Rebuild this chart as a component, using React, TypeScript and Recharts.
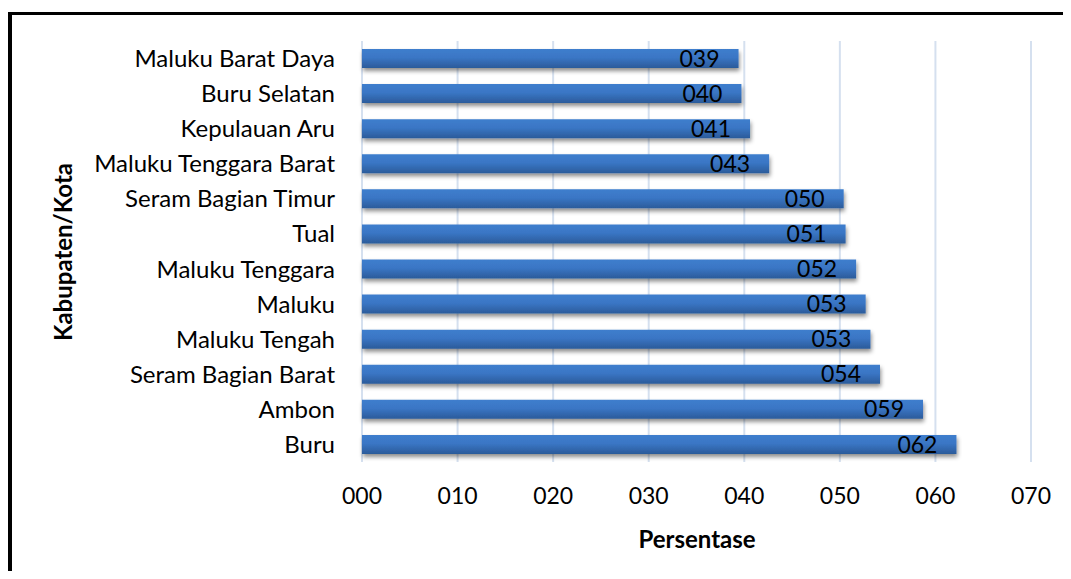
import { Bar, BarChart, CartesianGrid, LabelList, XAxis, YAxis } from "recharts";

// Persentase per kabupaten/kota, urut dari atas ke bawah
const kabupaten = [
  "Maluku Barat Daya",
  "Buru Selatan",
  "Kepulauan Aru",
  "Maluku Tenggara Barat",
  "Seram Bagian Timur",
  "Tual",
  "Maluku Tenggara",
  "Maluku",
  "Maluku Tengah",
  "Seram Bagian Barat",
  "Ambon",
  "Buru",
];

const persentase = [39.4, 39.7, 40.6, 42.6, 50.4, 50.6, 51.7, 52.7, 53.2, 54.2, 58.7, 62.2];

const xTicks = [0, 10, 20, 30, 40, 50, 60, 70];

const FONT = "Lato, 'Open Sans', sans-serif";

const pad3 = (v: number) => String(Math.round(v)).padStart(3, "0");

export default function App() {
  const data = kabupaten.map((nama, i) => ({ nama, nilai: persentase[i] }));

  return (
    <div style={{ position: "relative", width: 1071, height: 579, margin: -8, overflow: "hidden", background: "#fff" }}>
      {/* bingkai hitam */}
      <div
        style={{
          position: "absolute",
          left: 8,
          top: 12,
          width: 1080,
          height: 600,
          borderLeft: "4px solid #000",
          borderTop: "3px solid #000",
        }}
      />
      <div style={{ position: "absolute", left: 0, top: 0 }}>
        <BarChart
          width={1071}
          height={579}
          data={data}
          layout="vertical"
          margin={{ top: 41, right: 40, left: 62, bottom: 87 }}
          barCategoryGap={16}
          style={{ fontFamily: FONT }}
        >
          <defs>
            <linearGradient id="barFill" x1="0" y1="0" x2="0" y2="1">
              <stop offset="0%" stopColor="#3f7ecd" />
              <stop offset="45%" stopColor="#3a76c5" />
              <stop offset="100%" stopColor="#2b5b9a" />
            </linearGradient>
            <filter id="barShadow" x="-5%" y="-30%" width="110%" height="180%">
              <feDropShadow dx="1" dy="3" stdDeviation="2" floodColor="#000" floodOpacity="0.45" />
            </filter>
          </defs>
          <CartesianGrid horizontal={false} stroke="#d5e0ef" strokeWidth={2} />
          <XAxis
            type="number"
            domain={[0, 70]}
            ticks={xTicks}
            tickFormatter={pad3}
            axisLine={false}
            tickLine={false}
            tickSize={0}
            tickMargin={26}
            height={30}
            tick={{ fontSize: 23, fill: "#000", fontFamily: FONT }}
            interval={0}
          />
          <YAxis
            type="category"
            dataKey="nama"
            width={300}
            axisLine={false}
            tickLine={false}
            tickSize={0}
            tickMargin={27}
            tick={{ fontSize: 24, fill: "#000", fontFamily: FONT }}
            interval={0}
          />
          <Bar dataKey="nilai" fill="url(#barFill)" barSize={19} filter="url(#barShadow)" isAnimationActive={false}>
            <LabelList
              dataKey="nilai"
              position="insideRight"
              offset={19}
              formatter={(v: number) => pad3(v)}
              style={{ fontSize: 23, fill: "#000", fontFamily: FONT }}
            />
          </Bar>
          <text
            x={697}
            y={538}
            textAnchor="middle"
            dominantBaseline="central"
            style={{ fontSize: 24, fontWeight: 700, fill: "#000", fontFamily: FONT }}
          >
            Persentase
          </text>
          <text
            x={62}
            y={252}
            textAnchor="middle"
            dominantBaseline="central"
            transform="rotate(-90 62 252)"
            style={{ fontSize: 24, fontWeight: 700, fill: "#000", fontFamily: FONT }}
          >
            Kabupaten/Kota
          </text>
        </BarChart>
      </div>
    </div>
  );
}
